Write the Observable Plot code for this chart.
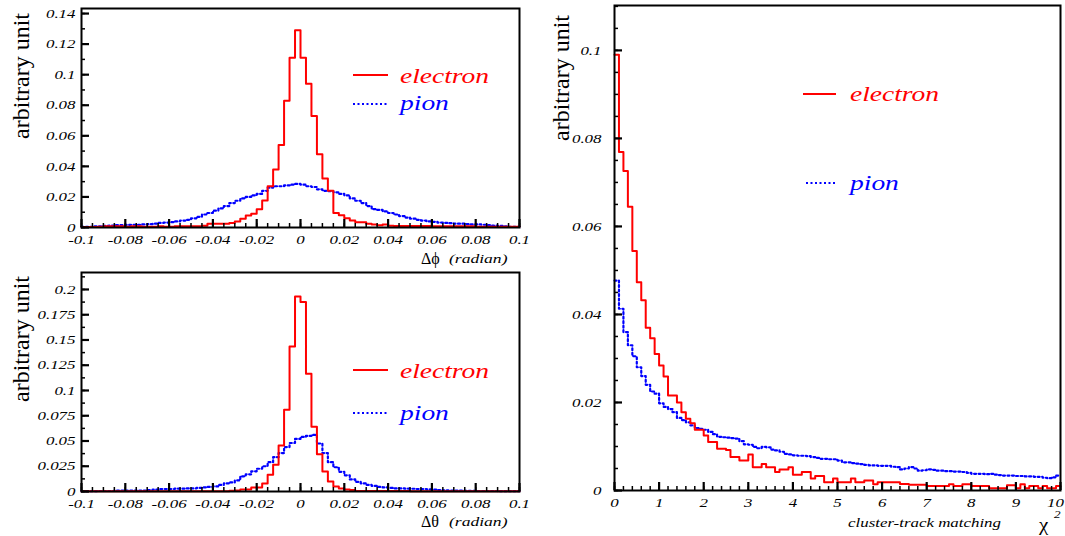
<!DOCTYPE html>
<html><head><meta charset="utf-8">
<script src="https://cdn.jsdelivr.net/npm/d3@7"></script>
<script src="https://cdn.jsdelivr.net/npm/@observablehq/plot@0.6"></script>
<style>
body{margin:0;background:#fff;}
#fig{position:relative;width:1065px;height:536px;overflow:hidden;background:#fff;}
#fig > svg{position:absolute;}
</style></head><body><div id="fig"></div>
<script>
// ---------- data ----------
const phiLo = -0.1, phiBin = 0.0025;   // Δφ histogram bins (80)
const phiElectron = [
 0.0003,0.0003,0.0003,0.0005, 0.0008,0.0008,0.0008,0.0008,0.0005,0.0008,0.0008,
 0.0005,0.0005,0.0005,0.0008,0.0005,0.0005, 0.0008,0.0008,0.0008,0.0008,0.0008,0.0012,
 0.0024,0.0024,0.0024,0.0024, 0.003,0.004,0.0057,0.0078,0.009,0.012,0.0177,0.027,0.038,0.054,
 0.083,0.111,0.129,0.111,0.094,0.073,0.048,0.032,0.024,0.0095,0.008,0.006,0.0045,0.0035,
 0.0035,0.0025,0.002,0.0015,0.002,0.0012, 0.001,0.001,0.001,0.001,0.001,0.001,0.001,
 0.0008,0.0008,0.0008,0.0008,0.0008,0.0008,0.0008,0.0008,
 0.0005,0.0005,0.0005,0.0005,0.0005,0.0005,0.0005,0.0005];
const phiPion = [
 0.0005,0.0005,0.0008,0.0008, 0.001,0.0012,0.0015,0.0015, 0.0017,0.0018,0.0018,0.002,
 0.0022,0.0025,0.003,0.0032, 0.0035,0.004,0.0045,0.005, 0.006,0.007,0.0085,0.0095,
 0.011,0.0125,0.014,0.016, 0.0175,0.019,0.02,0.021, 0.022,0.024,0.026,0.027,
 0.027,0.0275,0.028,0.0285, 0.028,0.027,0.0265,0.025, 0.024,0.0238,0.023,0.022,
 0.021,0.019,0.0175,0.016, 0.014,0.012,0.0115,0.0105, 0.0095,0.0085,0.0075,0.0065,
 0.0058,0.005,0.0045,0.004, 0.0037,0.0032,0.003,0.0028, 0.0025,0.0025,0.0022,0.002,
 0.002,0.0018,0.0015,0.0012, 0.001,0.0008,0.0005,0.0005];

const thetaLo = -0.1, thetaBin = 0.0025; // Δθ histogram bins (80)
const thetaElectron = [
 0.0003,0.0003,0.0003,0.0003,0.0003,0.0003,0.0003,0.0003,0.0003,0.0003,
 0.0003,0.0003,0.0003,0.0003,0.0003,0.0003,0.0003,0.0003,0.0003,0.0003,
 0.0003,0.0003,0.0003,0.0003,0.0003,0.0003,0.0003,
 0.0008,0.001,0.002,0.002,0.004,0.004,0.008,0.0165,0.0264,0.0455,0.081,0.1436,
 0.193,0.1875,0.1165,0.064,0.037,0.0198,0.010,0.005,0.003,0.002,0.0015,
 0.0005,0.0005,0.0005,0.0005,0.0005,0.0005,0.0005,0.0005,0.0005,0.0005,
 0.0003,0.0003,0.0003,0.0003,0.0003,0.0003,0.0003,0.0003,0.0003,0.0003,
 0.0003,0.0003,0.0003,0.0003,0.0003,0.0003,0.0003,0.0003,0.0003,0.0003];
const thetaPion = [
 0.0003,0.0003,0.0003,0.0005,0.0005,0.0005,0.0008,0.0008,0.001,0.001,0.001,0.001,
 0.0015,0.002,0.0025,0.0025, 0.0025,0.0028,0.0028,0.003, 0.003,0.0035,0.004,0.0045,
 0.005,0.0065,0.008,0.009, 0.011,0.015,0.017,0.02, 0.0225,0.025,0.029,0.034,
 0.038,0.044,0.048,0.052, 0.054,0.055,0.056,0.0475, 0.038,0.029,0.024,0.0195,
 0.016,0.012,0.0095,0.008, 0.0065,0.0055,0.0045,0.004, 0.0035,0.003,0.003,0.0028,
 0.0027,0.0025,0.0025,0.0022, 0.002,0.0015,0.0012,0.001,
 0.0008,0.0008,0.0007,0.0007,0.0005,0.0005,0.0005,0.0005,0.0003,0.0003,0.0003,0.0003];

const chiLo = 0, chiBin = 0.1;   // χ² histogram bins (100)
const chiElectron = [
 0.099,0.0769,0.0726,0.0645,0.0544,0.0473,0.0432,0.037,0.0346,0.031,
 0.0284,0.0259,0.0216,0.0216,0.020,0.0178,0.0163,0.0153,0.0138,0.0138,
 0.0125,0.011,0.011,0.0095,0.0095,0.0092,0.0076,0.0076,0.0068,0.0068,
 0.0082,0.0053,0.0053,0.006,0.0053,0.0053,0.0042,0.0048,0.0048,0.0053,
 0.0036,0.0036,0.0042,0.0042,0.0027,0.0033,0.0033,0.0019,0.0019,0.0027,
 0.0019,0.0019,0.0019,0.0027,0.0019,0.0019,0.0023,0.0023,0.0014,0.0019,
 0.0019,0.0019,0.0019,0.0019,0.0015,0.0015,0.0013,0.0013,0.0013,0.0013,
 0.001,0.001,0.001,0.001,0.001,0.0014,0.001,0.001,0.0014,0.0014,
 0.001,0.001,0.001,0.001,0.0005,0.0005,0.0005,0.0005,0.0012,0.0012,
 0.0005,0.0014,0.0005,0.001,0.001,0.0005,0.001,0.0005,0.0005,0.001];
const chiPion = [
 0.0477,0.0413,0.036,0.033,0.0305,0.028,0.026,0.024,0.0225,0.022,
 0.0198,0.019,0.0185,0.0178,0.0165,0.016,0.0155,0.0148,0.0142,0.014,
 0.0138,0.0133,0.0128,0.0122,0.0121,0.012,0.0119,0.0118,0.0112,0.0105,
 0.0104,0.0099,0.0096,0.0099,0.0098,0.0093,0.0091,0.0088,0.0083,0.0082,
 0.008,0.0079,0.0079,0.0078,0.0076,0.0074,0.0072,0.0072,0.0071,0.0071,
 0.0068,0.0064,0.0064,0.0062,0.0061,0.006,0.0058,0.0057,0.0057,0.0056,
 0.0056,0.0056,0.0054,0.0053,0.0048,0.005,0.0053,0.005,0.0045,0.0046,
 0.0048,0.0047,0.0045,0.0045,0.0044,0.0044,0.0043,0.0043,0.0042,0.004,
 0.0038,0.0038,0.0038,0.0037,0.0038,0.0036,0.0035,0.0034,0.0034,0.0034,
 0.0033,0.0033,0.0032,0.0032,0.0031,0.0031,0.0029,0.0028,0.003,0.0034];

// tick values
const angleTicksX = [-0.1,-0.08,-0.06,-0.04,-0.02,0,0.02,0.04,0.06,0.08,0.1];
const phiTicksY = [0,0.02,0.04,0.06,0.08,0.1,0.12,0.14];
const thetaTicksY = [0,0.025,0.05,0.075,0.1,0.125,0.15,0.175,0.2];
const chiTicksX = [0,1,2,3,4,5,6,7,8,9,10];
const chiTicksY = [0,0.02,0.04,0.06,0.08,0.1];

// ---------- drawing ----------
const RED = "#ff0000", BLUE = "#0000ff", DOT = "2,2.5";
const fmt = d => String(+(+d).toFixed(4));
const fig = document.getElementById("fig");

function steps(values, lo, w) {
  const pts = values.map((v, i) => ({x: lo + i * w, y: v}));
  pts.push({x: lo + values.length * w, y: values[values.length - 1]});
  return pts;
}
function range(a, b, s) { const n = Math.round((b - a) / s); return d3.range(n + 1).map(i => +(a + i * s).toFixed(6)); }

function stretch(svg, sx, edgeShift) {
  d3.select(svg).selectAll('g[aria-label="x-axis tick label"] text, g[aria-label="y-axis tick label"] text').each(function () {
    const x = +(this.getAttribute("x") || 0);
    const t = this.getAttribute("transform") || "";
    let extra = "";
    if (edgeShift && this.textContent === edgeShift.text) extra = ` translate(${edgeShift.dx},0)`;
    this.setAttribute("transform", `${t}${extra} translate(${x},0) scale(${sx},1) translate(${-x},0)`);
  });
}

function panel(o) {
  const marks = [];
  for (const s of o.series) {
    marks.push(Plot.line(steps(s.values, s.lo, s.w), {x: "x", y: "y", curve: "step-after",
      stroke: s.color, strokeWidth: s.dash ? 2.2 : 2, strokeDasharray: s.dash}));
  }
  marks.push(
    Plot.axisX(o.xMinor, {tickSize: -4, text: null, label: null, strokeWidth: 1.5}),
    Plot.axisX(o.xMajor, {tickSize: -8, text: null, label: null, strokeWidth: 2.2}),
    Plot.axisX(o.xMajor, {tickSize: 0, tickPadding: o.xPad, tickFormat: fmt, label: null}),
    Plot.axisY(o.yMinor, {tickSize: -4, text: null, label: null, strokeWidth: 1.5}),
    Plot.axisY(o.yMajor, {tickSize: -8, text: null, label: null, strokeWidth: 2.2}),
    Plot.axisY(o.yMajor, {tickSize: 0, tickPadding: o.yPad, tickFormat: fmt, label: null}),
    Plot.frame({stroke: "black", strokeWidth: 2})
  );
  const svg = Plot.plot({
    width: o.width, height: o.height,
    marginTop: o.mt, marginRight: o.mr, marginBottom: o.mb, marginLeft: o.ml,
    x: {domain: o.xDomain}, y: {domain: o.yDomain},
    style: {fontFamily: "'Liberation Serif', serif", fontStyle: "italic", fontSize: "13px", color: "#000", background: "transparent", overflow: "visible"},
    marks
  });
  stretch(svg, 1.3, o.edgeShift);
  svg.style.left = o.left + "px";
  svg.style.top = o.top + "px";
  fig.appendChild(svg);
}

panel({left: 0, top: 0, width: 530, height: 265, mt: 8, mr: 11, mb: 38, ml: 81,
  xDomain: [-0.1, 0.1], yDomain: [0, 0.1433], xPad: 7, yPad: 6,
  xMajor: angleTicksX, xMinor: range(-0.1, 0.1, 0.005), yMajor: phiTicksY, yMinor: range(0, 0.14, 0.01),
  series: [{values: phiPion, lo: phiLo, w: phiBin, color: BLUE, dash: DOT},
           {values: phiElectron, lo: phiLo, w: phiBin, color: RED}]});

panel({left: 0, top: 265, width: 530, height: 271, mt: 7, mr: 11, mb: 45, ml: 81,
  xDomain: [-0.1, 0.1], yDomain: [0, 0.2168], xPad: 7, yPad: 6,
  xMajor: angleTicksX, xMinor: range(-0.1, 0.1, 0.005), yMajor: thetaTicksY, yMinor: range(0, 0.2125, 0.0125),
  series: [{values: thetaPion, lo: thetaLo, w: thetaBin, color: BLUE, dash: DOT},
           {values: thetaElectron, lo: thetaLo, w: thetaBin, color: RED}]});

panel({left: 530, top: 0, width: 535, height: 536, mt: 5, mr: 5, mb: 46, ml: 84,
  xDomain: [0, 10], yDomain: [0, 0.1102], xPad: 7, yPad: 13,
  xMajor: chiTicksX, xMinor: range(0, 10, 0.2), yMajor: chiTicksY, yMinor: range(0, 0.11, 0.005),
  edgeShift: {text: "10", dx: -5},
  series: [{values: chiPion, lo: chiLo, w: chiBin, color: BLUE, dash: DOT},
           {values: chiElectron, lo: chiLo, w: chiBin, color: RED}]});

// ---------- overlay: axis titles and legends ----------
const ov = d3.select(fig).append("svg").attr("width", 1065).attr("height", 536)
  .style("left", "0px").style("top", "0px").style("pointer-events", "none")
  .attr("font-family", "'Liberation Serif', serif");

function txt(x, y, s, {size = 13, italic = true, fill = "#000", sx = 1, rot = 0, anchor = "start"} = {}) {
  ov.append("text").attr("transform", `translate(${x},${y}) rotate(${rot}) scale(${sx},1)`)
    .attr("font-size", size).attr("font-style", italic ? "italic" : "normal")
    .attr("fill", fill).attr("text-anchor", anchor).text(s);
}
function legLine(x1, x2, y, color, dash) {
  ov.append("line").attr("x1", x1).attr("x2", x2).attr("y1", y).attr("y2", y)
    .attr("stroke", color).attr("stroke-width", 2).attr("stroke-dasharray", dash || null);
}

// y titles
txt(29, 76, "arbitrary unit", {size: 24, italic: false, rot: -90, anchor: "middle"});
txt(29, 339, "arbitrary unit", {size: 24, italic: false, rot: -90, anchor: "middle"});
txt(569, 78, "arbitrary unit", {size: 24, italic: false, rot: -90, anchor: "middle"});

// x titles
txt(421, 264, "Δϕ", {size: 16, italic: false});
txt(449, 263, "(radian)", {size: 13, sx: 1.35});
txt(421, 527, "Δθ", {size: 16, italic: false});
txt(449, 526, "(radian)", {size: 13, sx: 1.35});
txt(848, 527, "cluster-track matching", {size: 13, sx: 1.3});
txt(1039, 531, "χ", {size: 19, italic: false, sx: 1.1});
txt(1054, 518, "2", {size: 11, sx: 1.2});

// legends
legLine(353, 388, 75, RED);
txt(400, 83, "electron", {size: 22, fill: RED, sx: 1.25});
legLine(353, 388, 104, BLUE, DOT);
txt(400, 110, "pion", {size: 22, fill: BLUE, sx: 1.25});

legLine(353, 388, 370, RED);
txt(400, 378, "electron", {size: 22, fill: RED, sx: 1.25});
legLine(353, 388, 413, BLUE, DOT);
txt(400, 420, "pion", {size: 22, fill: BLUE, sx: 1.25});

legLine(803, 836, 94, RED);
txt(850, 101, "electron", {size: 22, fill: RED, sx: 1.25});
legLine(806, 836, 183, BLUE, DOT);
txt(850, 190, "pion", {size: 22, fill: BLUE, sx: 1.25});
</script>
</body></html>
